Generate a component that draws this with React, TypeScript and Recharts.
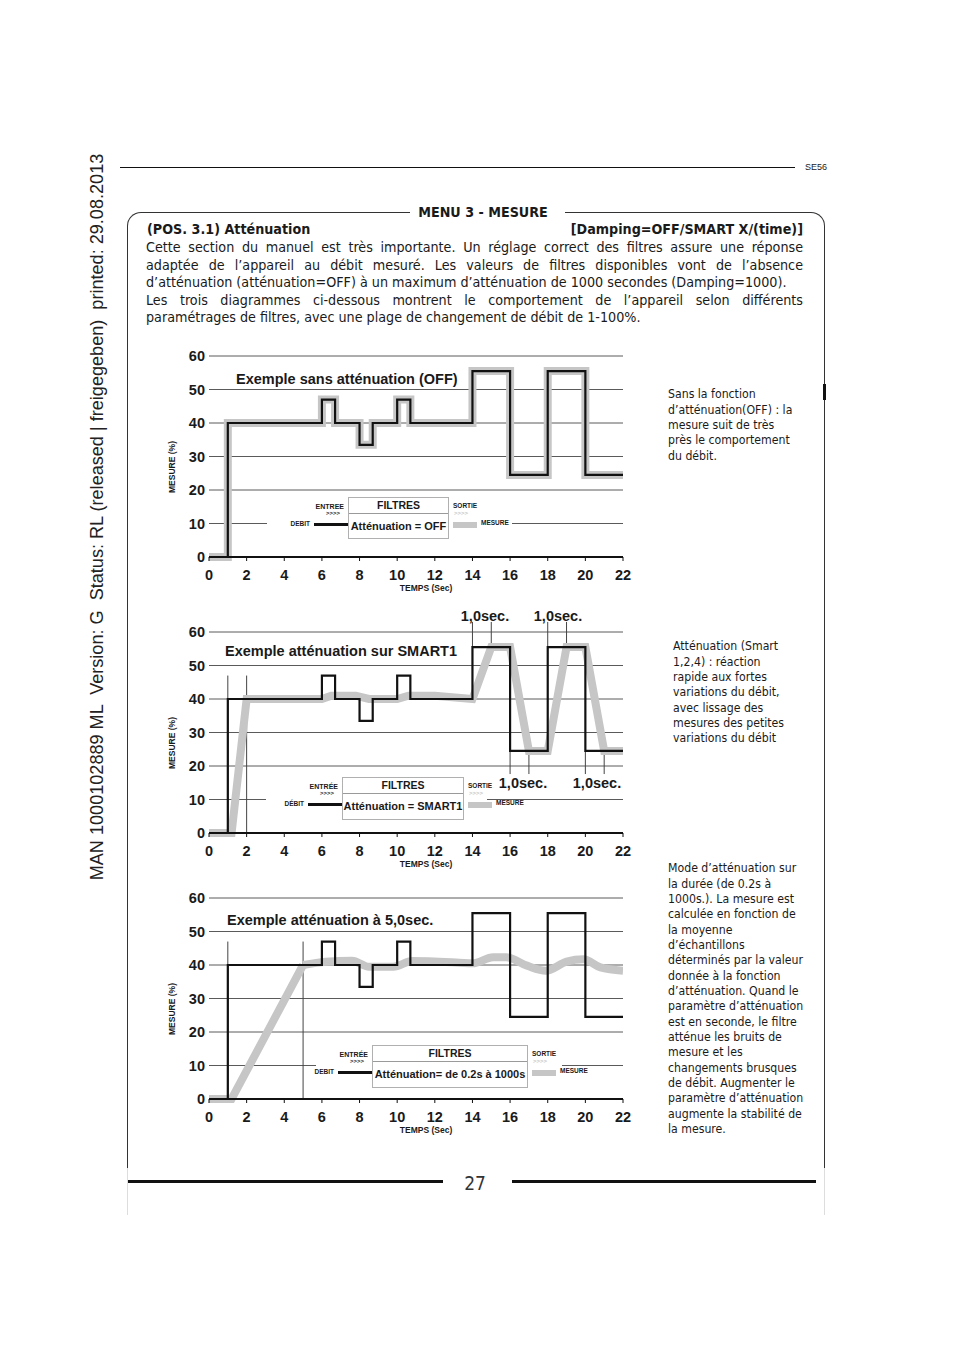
import React from "react";
import { LineChart, Line, XAxis, YAxis, CartesianGrid, ReferenceLine } from "recharts";

// axes
const xTicks = [0, 2, 4, 6, 8, 10, 12, 14, 16, 18, 20, 22];
const yTicks = [0, 10, 20, 30, 40, 50, 60];

// débit (input), step signal – same in the three diagrams
const debitTimes = [0, 1, 6, 6.7, 8, 8.7, 10, 10.7, 14, 16, 18, 20, 22];
const debitValues = [0, 40, 47, 40, 33.5, 40, 47, 40, 55.5, 24.5, 55.5, 24.5, 24.5];

// mesure, damping OFF (follows the débit)
const offTimes = [0, 1, 6, 6.7, 8, 8.7, 10, 10.7, 14, 16, 18, 20, 22];
const offValues = [0, 40, 47, 40, 33.5, 40, 47, 40, 55.5, 24.5, 55.5, 24.5, 24.5];

// mesure, SMART1
const smartTimes = [0, 1.2, 2, 6, 6.5, 7.8, 8.5, 10, 10.6, 12, 14, 15, 16, 17, 18, 19, 20, 21, 22];
const smartValues = [0, 0, 40, 40, 41, 41, 40, 40, 41, 41, 40, 55.5, 55.5, 24.5, 24.5, 55.5, 55.5, 24.5, 24.5];

// mesure, damping 5,0 sec : straight ramp, then smoothed part
const rampTimes = [0, 1.2, 5];
const rampValues = [0, 0, 40];
const dampTimes = [5, 6.2, 7.6, 8.5, 9.8, 10.8, 13.3, 14, 15.1, 15.8, 16.9, 17.9, 19, 19.9, 20.8, 22];
const dampValues = [40, 41, 41.3, 39.5, 39.5, 41.2, 40.7, 40.5, 42.3, 42.3, 39.8, 38.3, 41, 41.7, 39.3, 38.3];

// guide lines [x, yFrom, yTo]
const smartGuides = [
  [1, 0, 47], [2, 0, 47],
  [14, 55.5, 63], [15, 55.5, 63], [18, 55.5, 63], [19, 55.5, 63],
  [16, 24.5, 17.6], [17, 24.5, 17.6], [20, 24.5, 17.6], [21, 24.5, 17.6],
];
const dampGuides = [[1, 0, 47], [5, 0, 47]];

const toPoints = (ts: number[], vs: number[]) => ts.map((t, i) => ({ t, v: vs[i] }));

const ARIAL = '"Liberation Sans", Arial, Helvetica, sans-serif';
const BODY = '"DejaVu Sans Condensed", "DejaVu Sans", Verdana, sans-serif';

const tickStyle = { fontSize: 14.5, fontWeight: 700, fill: "#1a1a1a", fontFamily: ARIAL };

type TxtProps = {
  x: number;
  y: number;
  size: number;
  bold?: boolean;
  anchor?: "start" | "middle" | "end";
  family?: string;
  color?: string;
  children: React.ReactNode;
};

const Txt = ({ x, y, size, bold, anchor = "start", family = ARIAL, color = "#1a1a1a", children }: TxtProps) => {
  const tx = anchor === "middle" ? "-50%" : anchor === "end" ? "-100%" : "0";
  return (
    <div
      style={{
        position: "absolute",
        left: x,
        top: y,
        transform: `translate(${tx}, -50%)`,
        fontSize: size,
        fontWeight: bold ? 700 : 400,
        fontFamily: family,
        color,
        whiteSpace: "pre",
        lineHeight: 1,
      }}
    >
      {children}
    </div>
  );
};

type Series = { points: { t: number; v: number }[]; curve: "stepAfter" | "linear" | "monotone" };

function MeasureChart({ plotTop, mesure, guides }: { plotTop: number; mesure: Series[]; guides: number[][] }) {
  return (
    <div style={{ position: "absolute", left: 160, top: plotTop - 30 }}>
      <LineChart width={480} height={276} margin={{ top: 30, right: 17, bottom: 15, left: 9 }}>
        <CartesianGrid vertical={false} stroke="#5a5a5a" strokeWidth={1} />
        <XAxis
          type="number"
          dataKey="t"
          domain={[0, 22]}
          ticks={xTicks}
          interval={0}
          height={30}
          axisLine={{ stroke: "#111", strokeWidth: 2 }}
          tickLine={{ stroke: "#111" }}
          tickSize={4}
          tickMargin={9}
          tick={tickStyle}
          allowDataOverflow
        />
        <YAxis
          type="number"
          domain={[0, 60]}
          ticks={yTicks}
          interval={0}
          width={40}
          axisLine={false}
          tickLine={false}
          tickSize={0}
          tickMargin={4}
          tick={tickStyle}
        />
        {guides.map(([x, y1, y2], i) => (
          <ReferenceLine
            key={i}
            segment={[{ x, y: y1 }, { x, y: y2 }]}
            stroke="#444"
            strokeWidth={1}
            ifOverflow="visible"
          />
        ))}
        {mesure.map((s, i) => (
          <Line
            key={i}
            data={s.points}
            dataKey="v"
            type={s.curve}
            stroke="#c6c6c6"
            strokeWidth={8}
            dot={false}
            activeDot={false}
            isAnimationActive={false}
          />
        ))}
        <Line
          data={toPoints(debitTimes, debitValues)}
          dataKey="v"
          type="stepAfter"
          stroke="#111"
          strokeWidth={2.2}
          dot={false}
          activeDot={false}
          isAnimationActive={false}
        />
      </LineChart>
    </div>
  );
}

function AxisTitles({ plotTop }: { plotTop: number }) {
  return (
    <>
      <div
        style={{
          position: "absolute",
          left: 172 - 40,
          top: plotTop + 111 - 6,
          width: 80,
          height: 12,
          lineHeight: "12px",
          textAlign: "center",
          transform: "rotate(-90deg)",
          fontSize: 8.5,
          fontWeight: 700,
          fontFamily: ARIAL,
          color: "#1a1a1a",
          whiteSpace: "pre",
        }}
      >
        MESURE (%)
      </div>
      <Txt x={426} y={plotTop + 232} size={8.5} bold anchor="middle">
        TEMPS (Sec)
      </Txt>
    </>
  );
}

function FilterLegend({
  bx,
  by,
  bw,
  bh,
  label,
  entree,
  debit,
  cover,
}: {
  bx: number;
  by: number;
  bw: number;
  bh: number;
  label: string;
  entree: string;
  debit: string;
  cover: number[];
}) {
  return (
    <>
      <div
        style={{
          position: "absolute",
          left: cover[0],
          top: cover[1],
          width: cover[2] - cover[0],
          height: cover[3] - cover[1],
          background: "#fff",
        }}
      />
      <Txt x={bx - 4} y={by + 9} size={7} bold anchor="end">
        {entree}
      </Txt>
      <Txt x={bx - 8} y={by + 16} size={6} bold anchor="end">
        {">>>>"}
      </Txt>
      <Txt x={bx - 38} y={by + 27} size={6.5} bold anchor="end">
        {debit}
      </Txt>
      <div style={{ position: "absolute", left: bx - 34, top: by + 26, width: 34, height: 2.5, background: "#111" }} />
      <div
        style={{
          position: "absolute",
          left: bx,
          top: by,
          width: bw,
          height: bh,
          border: "1px solid #b0b0b0",
          boxSizing: "border-box",
          background: "#fff",
          fontFamily: ARIAL,
          fontWeight: 700,
          color: "#1a1a1a",
          textAlign: "center",
        }}
      >
        <div style={{ height: 15, lineHeight: "15px", fontSize: 10.5, borderBottom: "1px solid #9a9a9a" }}>FILTRES</div>
        <div style={{ height: bh - 18, lineHeight: `${bh - 18}px`, fontSize: 11, whiteSpace: "pre" }}>{label}</div>
      </div>
      <Txt x={bx + bw + 4} y={by + 9} size={6.5} bold>
        SORTIE
      </Txt>
      <Txt x={bx + bw + 5} y={by + 16} size={6} bold color="#c8c8c8">
        {">>>>"}
      </Txt>
      <div style={{ position: "absolute", left: bx + bw + 4, top: by + 25, width: 24, height: 6, background: "#c6c6c6" }} />
      <Txt x={bx + bw + 32} y={by + 26} size={6.5} bold>
        MESURE
      </Txt>
    </>
  );
}

const paragraph = [
  { text: "Cette section du manuel est très importante. Un réglage correct des filtres assure une réponse", justify: true },
  { text: "adaptée de l’appareil au débit mesuré. Les valeurs de filtres disponibles vont de l’absence", justify: true },
  { text: "d’atténuation (atténuation=OFF) à un maximum d’atténuation de 1000 secondes (Damping=1000).", justify: false },
  { text: "Les trois diagrammes ci-dessous montrent le comportement de l’appareil selon différents", justify: true },
  { text: "paramétrages de filtres, avec une plage de changement de débit de 1-100%.", justify: false },
];

const noteOff = ["Sans la fonction", "d’atténuation(OFF) : la", "mesure suit de très", "près le comportement", "du débit."];
const noteSmart = [
  "Atténuation (Smart",
  "1,2,4) : réaction",
  "rapide aux fortes",
  "variations du débit,",
  "avec lissage des",
  "mesures des petites",
  "variations du débit",
];
const noteDamp = [
  "Mode d’atténuation sur",
  "la durée (de 0.2s à",
  "1000s.). La mesure est",
  "calculée en fonction de",
  "la moyenne",
  "d’échantillons",
  "déterminés par la valeur",
  "donnée à la fonction",
  "d’atténuation. Quand le",
  "paramètre d’atténuation",
  "est en seconde, le filtre",
  "atténue les bruits de",
  "mesure et les",
  "changements brusques",
  "de débit. Augmenter le",
  "paramètre d’atténuation",
  "augmente la stabilité de",
  "la mesure.",
];

const Note = ({ x, y, lines }: { x: number; y: number; lines: string[] }) => (
  <div
    style={{
      position: "absolute",
      left: x,
      top: y - 7.7,
      fontFamily: BODY,
      fontSize: 12.2,
      lineHeight: "15.35px",
      color: "#1a1a1a",
      whiteSpace: "pre",
    }}
  >
    {lines.map((l, i) => (
      <div key={i}>{l}</div>
    ))}
  </div>
);

export default function App() {
  return (
    <div
      style={{
        position: "absolute",
        left: 0,
        top: 0,
        width: 954,
        height: 1352,
        background: "#fff",
        overflow: "hidden",
        fontFamily: ARIAL,
      }}
    >
      {/* side print stamp */}
      <div
        style={{
          position: "absolute",
          left: 97 - 380,
          top: 517 - 11,
          width: 760,
          height: 22,
          lineHeight: "22px",
          textAlign: "center",
          transform: "rotate(-90deg)",
          fontSize: 18.1,
          fontFamily: ARIAL,
          color: "#222",
          whiteSpace: "pre",
        }}
      >
        MAN 1000102889 ML  Version: G  Status: RL (released | freigegeben)  printed: 29.08.2013
      </div>

      {/* header */}
      <div style={{ position: "absolute", left: 120, top: 167, width: 675, height: 1, background: "#111" }} />
      <Txt x={805} y={167} size={9}>
        SE56
      </Txt>

      {/* frame */}
      <div
        style={{
          position: "absolute",
          left: 127,
          top: 212,
          width: 698,
          height: 956,
          border: "1px solid #333",
          borderBottom: "none",
          borderTopLeftRadius: 14,
          borderTopRightRadius: 14,
          boxSizing: "border-box",
        }}
      />
      <div style={{ position: "absolute", left: 823, top: 384, width: 3, height: 16, background: "#111" }} />
      <div style={{ position: "absolute", left: 410, top: 205, width: 155, height: 14, background: "#fff" }} />
      <Txt x={483} y={212} size={14.2} bold anchor="middle" family={BODY}>
        MENU 3 - MESURE
      </Txt>
      <Txt x={147} y={229} size={14.2} bold family={BODY}>
        (POS. 3.1) Atténuation
      </Txt>
      <Txt x={803} y={229} size={14.2} bold anchor="end" family={BODY}>
        [Damping=OFF/SMART X/(time)]
      </Txt>
      <div style={{ position: "absolute", left: 146, top: 239, width: 657, fontFamily: BODY, fontSize: 14.2, color: "#1a1a1a" }}>
        {paragraph.map((p, i) => (
          <div
            key={i}
            style={{
              height: 17.5,
              lineHeight: "17.5px",
              whiteSpace: "nowrap",
              textAlign: p.justify ? "justify" : "left",
              textAlignLast: p.justify ? "justify" : "left",
            }}
          >
            {p.text}
          </div>
        ))}
      </div>

      {/* diagram 1 : OFF */}
      <MeasureChart plotTop={356} mesure={[{ points: toPoints(offTimes, offValues), curve: "stepAfter" }]} guides={[]} />
      <AxisTitles plotTop={356} />
      <Txt x={236} y={379} size={14.5} bold>
        Exemple sans atténuation (OFF)
      </Txt>
      <FilterLegend
        bx={348}
        by={497}
        bw={101}
        bh={42}
        label="Atténuation = OFF"
        entree="ENTREE"
        debit="DEBIT"
        cover={[267, 494, 512, 541]}
      />
      <Note x={668} y={395} lines={noteOff} />

      {/* diagram 2 : SMART1 */}
      <MeasureChart
        plotTop={632}
        mesure={[{ points: toPoints(smartTimes, smartValues), curve: "linear" }]}
        guides={smartGuides}
      />
      <AxisTitles plotTop={632} />
      <Txt x={225} y={651} size={14.5} bold>
        Exemple atténuation sur SMART1
      </Txt>
      <Txt x={485} y={616} size={14.5} bold anchor="middle">
        1,0sec.
      </Txt>
      <Txt x={558} y={616} size={14.5} bold anchor="middle">
        1,0sec.
      </Txt>
      <FilterLegend
        bx={342}
        by={777}
        bw={122}
        bh={43}
        label="Atténuation = SMART1"
        entree="ENTRÉE"
        debit="DÉBIT"
        cover={[266, 776, 487, 801]}
      />
      <Txt x={523} y={783} size={14.5} bold anchor="middle">
        1,0sec.
      </Txt>
      <Txt x={597} y={783} size={14.5} bold anchor="middle">
        1,0sec.
      </Txt>
      <Note x={673} y={647} lines={noteSmart} />

      {/* diagram 3 : 5,0 sec */}
      <MeasureChart
        plotTop={898}
        mesure={[
          { points: toPoints(rampTimes, rampValues), curve: "linear" },
          { points: toPoints(dampTimes, dampValues), curve: "monotone" },
        ]}
        guides={dampGuides}
      />
      <AxisTitles plotTop={898} />
      <Txt x={227} y={920} size={14.5} bold>
        Exemple atténuation à 5,0sec.
      </Txt>
      <FilterLegend
        bx={372}
        by={1045}
        bw={156}
        bh={43}
        label="Atténuation= de 0.2s à 1000s"
        entree="ENTRÉE"
        debit="DEBIT"
        cover={[316, 1043, 562, 1090]}
      />
      <Note x={668} y={869} lines={noteDamp} />

      {/* footer */}
      <div style={{ position: "absolute", left: 128, top: 1180, width: 315, height: 2.5, background: "#111" }} />
      <div style={{ position: "absolute", left: 512, top: 1180, width: 304, height: 2.5, background: "#111" }} />
      <Txt x={475} y={1183} size={19} anchor="middle" family={BODY} color="#333">
        27
      </Txt>
      <div style={{ position: "absolute", left: 127, top: 1168, width: 1, height: 47, background: "#ddd" }} />
      <div style={{ position: "absolute", left: 824, top: 1168, width: 1, height: 47, background: "#ddd" }} />
    </div>
  );
}
